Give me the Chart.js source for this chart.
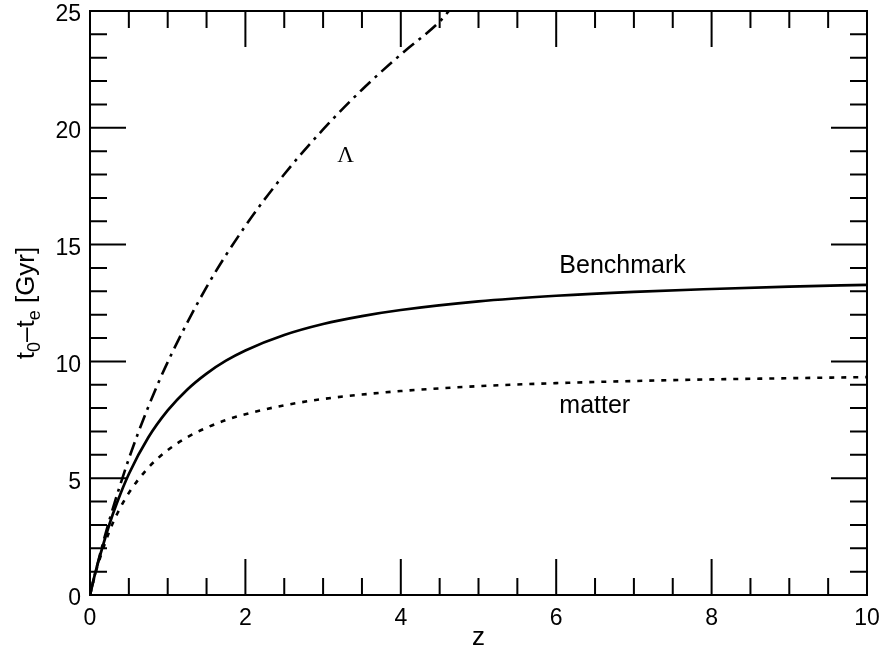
<!DOCTYPE html>
<html>
<head>
<meta charset="utf-8">
<script src="https://cdn.jsdelivr.net/npm/chart.js@4.4.0/dist/chart.umd.min.js"></script>
<style>
  html, body { margin: 0; padding: 0; background: #fff; }
  #wrap { width: 885px; height: 647px; }
</style>
</head>
<body>
<div id="wrap"><canvas id="lookbackChart"></canvas></div>
<script>
// redshift grid for the benchmark and matter-only curves
var zValues = [0, 0.05, 0.1, 0.25, 0.35, 0.5, 0.75, 1, 1.25, 1.5, 1.75, 2, 2.5, 3, 3.5, 4, 5, 6, 7, 8, 9, 10];
var benchmarkTimes = [0, 0.71, 1.34, 3.03, 3.97, 5.18, 6.74, 7.90, 8.79, 9.48, 10.03, 10.47, 11.13, 11.60, 11.94, 12.20, 12.57, 12.81, 12.98, 13.10, 13.20, 13.28];
var matterTimes = [0, 0.68, 1.28, 2.73, 3.48, 4.37, 5.45, 6.20, 6.75, 7.16, 7.49, 7.74, 8.12, 8.39, 8.58, 8.73, 8.94, 9.07, 9.16, 9.23, 9.28, 9.33];
// lambda-only curve leaves the top of the frame near z = 4.6
var lambdaZ = [0, 0.05, 0.1, 0.25, 0.5, 0.75, 1, 1.5, 2, 2.5, 3, 3.5, 4, 4.5, 4.62];
var lambdaTimes = [0, 0.70, 1.37, 3.21, 5.83, 8.05, 9.97, 13.18, 15.80, 18.01, 19.93, 21.63, 23.14, 24.55, 25.0];

var xTicks = [0, 2, 4, 6, 8, 10];
var yTicks = [0, 5, 10, 15, 20, 25];

function toPoints(xs, ys) {
    var pts = [];
    for (var i = 0; i < xs.length; i++) pts.push({x: xs[i], y: ys[i]});
    return pts;
}

var sansFont = "'Liberation Sans', Arial, Helvetica, sans-serif";

// text placed next to the curves, anchored in data units
var curveNotes = [
    {text: 'Benchmark', z: 6.04, t: 14.1, align: 'left', font: '25px ' + sansFont},
    {text: 'matter', z: 6.04, t: 8.1, align: 'left', font: '25px ' + sansFont},
    {text: 'Λ', z: 3.29, t: 18.8, align: 'center', font: '23px "Liberation Serif", "DejaVu Serif", serif'}
];

// y title with real subscripts: [text, size, drop]
var yTitleParts = [['t', 26, 0], ['0', 18, 6], ['–t', 26, 0], ['e', 18, 6], [' [Gyr]', 26, 0]];

function drawYTitle(ctx, cx, cy) {
    ctx.save();
    ctx.translate(cx, cy);
    ctx.rotate(-Math.PI / 2);
    ctx.fillStyle = '#000';
    ctx.textBaseline = 'alphabetic';
    ctx.textAlign = 'left';
    var total = 0;
    yTitleParts.forEach(function(p) {
        ctx.font = p[1] + 'px ' + sansFont;
        total += ctx.measureText(p[0]).width;
    });
    var x = -total / 2;
    yTitleParts.forEach(function(p) {
        ctx.font = p[1] + 'px ' + sansFont;
        ctx.fillText(p[0], x, p[2]);
        x += ctx.measureText(p[0]).width;
    });
    ctx.restore();
}

// box and inward ticks on all four sides
var frameTicks = {
    id: 'frameTicks',
    afterDraw: function(chart) {
        var ctx = chart.ctx, a = chart.chartArea;
        var xs = chart.scales.x, ys = chart.scales.y;
        ctx.save();
        ctx.strokeStyle = '#000';
        ctx.lineWidth = 2;
        ctx.strokeRect(a.left, a.top, a.right - a.left, a.bottom - a.top);
        ctx.beginPath();
        for (var i = 0; i <= 20; i++) {
            var px = xs.getPixelForValue(i * 0.5);
            var len = (i % 4 === 0) ? 36 : 17;
            ctx.moveTo(px, a.bottom); ctx.lineTo(px, a.bottom - len);
            ctx.moveTo(px, a.top); ctx.lineTo(px, a.top + len);
        }
        for (var t = 0; t <= 25; t++) {
            var py = ys.getPixelForValue(t);
            var l2 = (t % 5 === 0) ? 36 : 17;
            ctx.moveTo(a.left, py); ctx.lineTo(a.left + l2, py);
            ctx.moveTo(a.right, py); ctx.lineTo(a.right - l2, py);
        }
        ctx.stroke();

        ctx.fillStyle = '#000';
        ctx.textBaseline = 'middle';
        curveNotes.forEach(function(n) {
            ctx.font = n.font;
            ctx.textAlign = n.align;
            ctx.fillText(n.text, xs.getPixelForValue(n.z), ys.getPixelForValue(n.t));
        });
        ctx.restore();

        drawYTitle(ctx, 34, (a.top + a.bottom) / 2);
    }
};

document.addEventListener("DOMContentLoaded", function() {
    var ctx = document.getElementById('lookbackChart').getContext('2d');
    var lookbackChart = new Chart(ctx, {
        type: 'line',
        data: {
            datasets: [{
                label: 'Λ',
                data: toPoints(lambdaZ, lambdaTimes),
                borderColor: '#000',
                borderWidth: 2.6,
                borderDash: [14, 6, 3, 6],
                pointRadius: 0,
                cubicInterpolationMode: 'monotone'
            }, {
                label: 'Benchmark',
                data: toPoints(zValues, benchmarkTimes),
                borderColor: '#000',
                borderWidth: 2.7,
                pointRadius: 0,
                cubicInterpolationMode: 'monotone'
            }, {
                label: 'matter',
                data: toPoints(zValues, matterTimes),
                borderColor: '#000',
                borderWidth: 2.6,
                borderDash: [5, 7],
                pointRadius: 0,
                cubicInterpolationMode: 'monotone'
            }]
        },
        options: {
            responsive: true,
            maintainAspectRatio: false,
            animation: false,
            layout: { padding: { top: 11, right: 18, left: 0, bottom: 0 } },
            plugins: { legend: { display: false }, tooltip: { enabled: false } },
            scales: {
                x: {
                    type: 'linear',
                    min: 0,
                    max: 10,
                    afterBuildTicks: function(scale) {
                        scale.ticks = xTicks.map(function(v) { return {value: v}; });
                    },
                    afterFit: function(scale) {
                        scale.height = 52;
                        scale.paddingLeft = 0;
                        scale.paddingRight = 0;
                    },
                    grid: { display: false, drawTicks: false },
                    border: { display: false },
                    ticks: {
                        color: '#000',
                        padding: 10,
                        maxRotation: 0,
                        font: { family: sansFont, size: 23 }
                    },
                    title: {
                        display: true,
                        text: 'z',
                        color: '#000',
                        font: { family: sansFont, size: 26, lineHeight: 0.7 },
                        padding: { top: 0, bottom: 0 }
                    }
                },
                y: {
                    min: 0,
                    max: 25,
                    afterBuildTicks: function(scale) {
                        scale.ticks = yTicks.map(function(v) { return {value: v}; });
                    },
                    afterFit: function(scale) {
                        scale.width = 90;
                        scale.paddingTop = 0;
                        scale.paddingBottom = 0;
                    },
                    grid: { display: false, drawTicks: false },
                    border: { display: false },
                    ticks: {
                        color: '#000',
                        padding: 9,
                        labelOffset: 4,
                        font: { family: sansFont, size: 23 }
                    }
                }
            }
        },
        plugins: [frameTicks]
    });
});
</script>
</body>
</html>
